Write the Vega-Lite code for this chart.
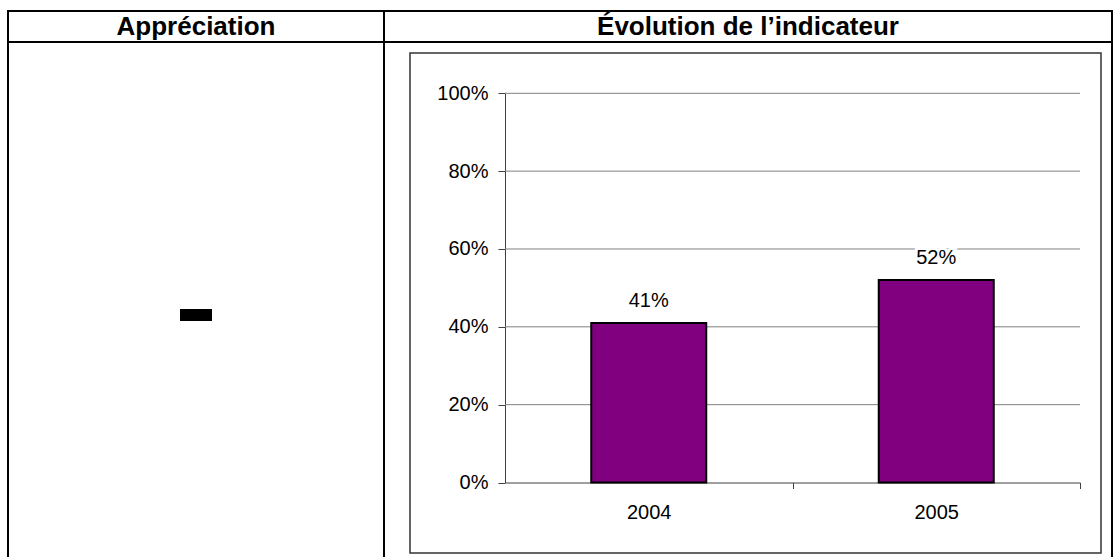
{
  "$schema": "https://vega.github.io/schema/vega-lite/v6.json",
  "padding": {"left": 6, "top": 10, "right": 0, "bottom": 0},
  "background": "white",
  "bounds": "flush",
  "spacing": 0,
  "config": {
    "view": {"stroke": null},
    "font": "Liberation Sans",
    "axis": {"labelFont": "Liberation Sans", "labelColor": "black", "title": null}
  },
  "hconcat": [
    {
      "width": 376, "height": 577,
      "view": {"stroke": "black", "strokeWidth": 2},
      "layer": [
        {
          "data": {"values": [{"label": "Appréciation"}]},
          "layer": [
            {
              "mark": {"type": "text", "font": "Liberation Sans", "fontWeight": "bold", "fontSize": 26, "color": "black"},
              "encoding": {
                "text": {"field": "label", "type": "nominal"},
                "y": {"datum": 0.5, "type": "quantitative", "scale": {"domain": [0, 1], "range": [31, 0]}, "axis": null}
              }
            },
            {
              "mark": {"type": "rule", "color": "black", "strokeWidth": 2},
              "encoding": {"y": {"datum": 0, "type": "quantitative"}}
            }
          ]
        },
        {
          "data": {"values": [{"appreciation": "stable", "level": 0}]},
          "mark": {"type": "point", "shape": "M-1,-0.375H1V0.375H-1Z", "size": 1024, "filled": true, "color": "black", "opacity": 1, "strokeWidth": 0},
          "encoding": {
            "y": {"field": "level", "type": "quantitative", "scale": {"domain": [-1, 1], "range": [577, 31]}, "axis": null},
            "tooltip": {"field": "appreciation", "type": "nominal"}
          }
        }
      ],
      "resolve": {"scale": {"y": "independent"}, "axis": {"y": "independent"}}
    },
    {
      "width": 728, "height": 577,
      "view": {"stroke": "black", "strokeWidth": 2},
      "layer": [
        {
          "data": {"values": [{"label": "Évolution de l’indicateur"}]},
          "layer": [
            {
              "mark": {"type": "text", "font": "Liberation Sans", "fontWeight": "bold", "fontSize": 26, "color": "black"},
              "encoding": {
                "text": {"field": "label", "type": "nominal"},
                "y": {"datum": 0.5, "type": "quantitative", "scale": {"domain": [0, 1], "range": [31, 0]}, "axis": null}
              }
            },
            {
              "mark": {"type": "rule", "color": "black", "strokeWidth": 2},
              "encoding": {"y": {"datum": 0, "type": "quantitative"}}
            }
          ]
        },
        {
          "data": {"values": [{"part": "frame"}]},
          "mark": {"type": "rect", "filled": false, "color": "#333333", "strokeWidth": 1.5},
          "encoding": {
            "x": {"datum": 0, "type": "quantitative", "scale": {"domain": [0, 1], "range": [26, 717]}, "axis": null},
            "x2": {"datum": 1},
            "y": {"datum": 0, "type": "quantitative", "scale": {"domain": [0, 1], "range": [542, 42]}, "axis": null},
            "y2": {"datum": 1}
          }
        },
        {
          "layer": [
            {
              "data": {"values": [{"v": 0.2}, {"v": 0.4}, {"v": 0.6}, {"v": 0.8}, {"v": 1.0}]},
              "mark": {"type": "rule", "color": "#808080", "strokeWidth": 1},
              "encoding": {
                "y": {"field": "v", "type": "quantitative", "scale": {"domain": [0, 1], "range": [471.5, 82.3], "nice": false}},
                "x": {"datum": 0, "type": "quantitative", "scale": {"domain": [0, 1], "range": [121, 696]}, "axis": null},
                "x2": {"datum": 1}
              }
            },
            {
              "data": {"values": [
                {"year": "2004", "value": 0.41},
                {"year": "2005", "value": 0.52}
              ]},
              "encoding": {
                "x": {
                  "field": "year", "type": "nominal",
                  "scale": {"range": [121, 696], "paddingInner": 0.6, "paddingOuter": 0.3},
                  "axis": {
                    "orient": "bottom", "offset": -105.5,
                    "labelAngle": 0, "labelFontSize": 20, "labelPadding": 14,
                    "tickSize": 6, "tickColor": "#404040", "domainColor": "#404040",
                    "tickOffset": 143.75, "labelOffset": -143.75, "grid": false
                  }
                },
                "y": {
                  "field": "value", "type": "quantitative",
                  "scale": {"domain": [0, 1], "range": [471.5, 82.3], "nice": false},
                  "axis": {
                    "orient": "left", "offset": -121,
                    "values": [0, 0.2, 0.4, 0.6, 0.8, 1], "format": ".0%",
                    "labelFontSize": 20, "labelPadding": 10, "tickSize": 7,
                    "tickColor": "#404040", "domainColor": "#404040",
                    "grid": false
                  }
                }
              },
              "layer": [
                {"mark": {"type": "bar", "fill": "#800080", "stroke": "black", "strokeWidth": 2}},
                {
                  "mark": {"type": "text", "baseline": "alphabetic", "dy": -16, "fontSize": 20, "fill": "white", "stroke": "white", "strokeWidth": 6},
                  "encoding": {"text": {"field": "value", "type": "quantitative", "format": ".0%"}}
                },
                {
                  "mark": {"type": "text", "baseline": "alphabetic", "dy": -16, "fontSize": 20, "fill": "black"},
                  "encoding": {"text": {"field": "value", "type": "quantitative", "format": ".0%"}}
                }
              ]
            }
          ],
          "resolve": {"scale": {"x": "independent"}, "axis": {"x": "independent"}}
        }
      ],
      "resolve": {"scale": {"x": "independent", "y": "independent"}, "axis": {"x": "independent", "y": "independent"}}
    }
  ]
}
